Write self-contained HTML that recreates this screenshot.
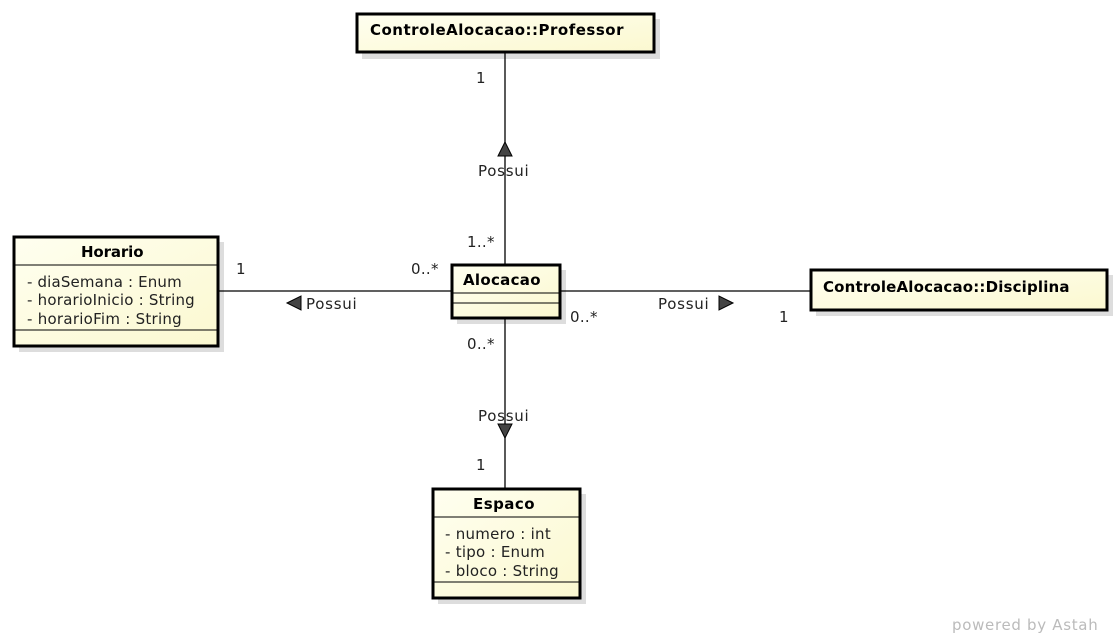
<!DOCTYPE html>
<html><head><style>body{margin:0;background:#fff}svg{display:block}text{font-family:"DejaVu Sans","Liberation Sans",sans-serif;font-size:15px;letter-spacing:0.3px;fill:#222}.b{font-weight:bold;font-size:15px;letter-spacing:0.5px;fill:#000}</style></head><body>
<svg width="1120" height="638" viewBox="0 0 1120 638">
<defs><linearGradient id="g" x1="0" y1="0" x2="1" y2="1"><stop offset="0" stop-color="#fffff0"/><stop offset="1" stop-color="#fbf8d0"/></linearGradient></defs>
<g fill="#ddd">
<rect x="362" y="19" width="298" height="40"/>
<rect x="19" y="242" width="205" height="110"/>
<rect x="457" y="270" width="109" height="54"/>
<rect x="816" y="275" width="297" height="41"/>
<rect x="438" y="494" width="148" height="110"/>
</g>
<g stroke="#000" fill="none" stroke-width="1.3">
<line x1="505" y1="52" x2="505" y2="264"/>
<line x1="505" y1="318" x2="505" y2="488"/>
<line x1="218" y1="291" x2="451" y2="291"/>
<line x1="560" y1="291" x2="810" y2="291"/>
</g>
<g fill="url(#g)" stroke="#000" stroke-width="3">
<rect x="357" y="14" width="297" height="38"/>
<rect x="14" y="237" width="204" height="109"/>
<rect x="452" y="265" width="108" height="53"/>
<rect x="811" y="270" width="296" height="40"/>
<rect x="433" y="489" width="147" height="109"/>
</g>
<g stroke="#000" stroke-width="1">
<line x1="14" y1="265" x2="218" y2="265"/><line x1="14" y1="330" x2="218" y2="330"/>
<line x1="452" y1="293" x2="560" y2="293"/><line x1="452" y1="303" x2="560" y2="303"/>
<line x1="433" y1="517" x2="580" y2="517"/><line x1="433" y1="582" x2="580" y2="582"/>
</g>
<g fill="#444" stroke="#000" stroke-width="1">
<polygon points="505,142 498,156 512,156"/>
<polygon points="287,303 301,296 301,310"/>
<polygon points="733,303 719,296 719,310"/>
<polygon points="505,438 498,424 512,424"/>
</g>
<text class="b" x="370" y="35" textLength="254">ControleAlocacao::Professor</text>
<text class="b" x="81" y="257" textLength="63">Horario</text>
<text x="27" y="287" textLength="155">- diaSemana : Enum</text>
<text x="27" y="305" textLength="168">- horarioInicio : String</text>
<text x="27" y="324" textLength="155">- horarioFim : String</text>
<text class="b" x="463" y="285" textLength="78">Alocacao</text>
<text class="b" x="823" y="292" textLength="247">ControleAlocacao::Disciplina</text>
<text class="b" x="473" y="509" textLength="62">Espaco</text>
<text x="445" y="539" textLength="106">- numero : int</text>
<text x="445" y="557" textLength="100">- tipo : Enum</text>
<text x="445" y="576" textLength="114">- bloco : String</text>
<text x="476" y="83">1</text>
<text x="478" y="176" textLength="51">Possui</text>
<text x="467" y="247">1..*</text>
<text x="236" y="274">1</text>
<text x="411" y="274">0..*</text>
<text x="306" y="309" textLength="51">Possui</text>
<text x="570" y="322">0..*</text>
<text x="658" y="309" textLength="51">Possui</text>
<text x="779" y="322">1</text>
<text x="467" y="349">0..*</text>
<text x="478" y="421" textLength="51">Possui</text>
<text x="476" y="470">1</text>
<text x="952" y="630" textLength="146" style="fill:#bbb;font-size:15px">powered by Astah</text>
</svg>
</body></html>
